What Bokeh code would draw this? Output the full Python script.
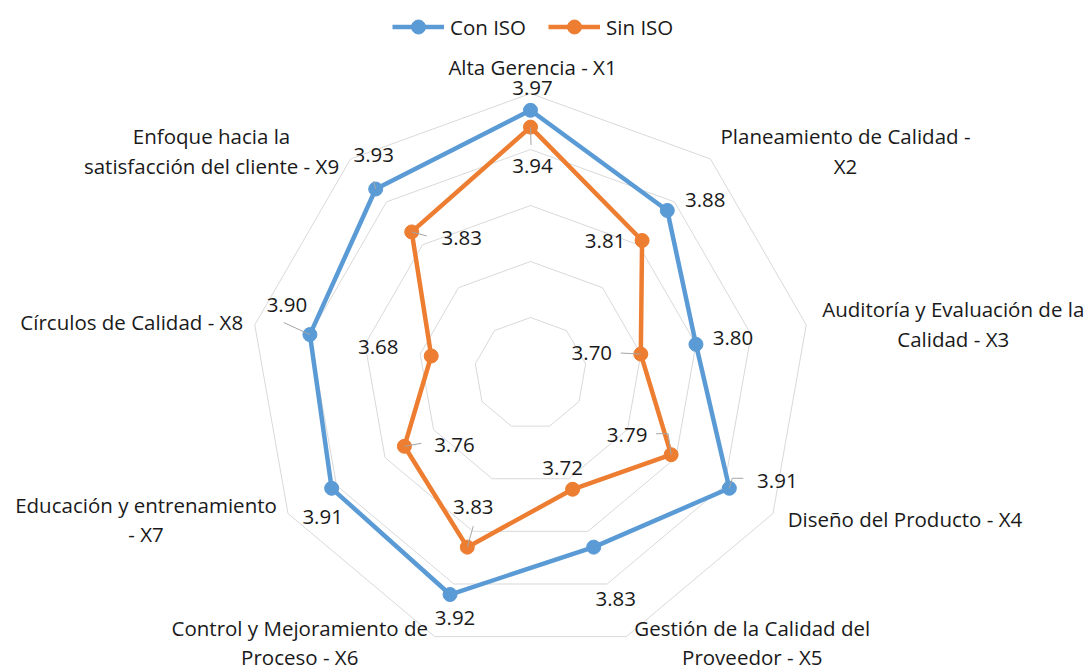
import numpy as np
from bokeh.plotting import figure
from bokeh.models import Range1d, Legend, LegendItem
from bokeh.core.properties import value
from bokeh.embed import file_html
from bokeh.resources import INLINE

# ---- data -------------------------------------------------------------
categories = [
    "Alta Gerencia - X1",
    "Planeamiento de Calidad -\nX2",
    "Auditoría y Evaluación de la\nCalidad - X3",
    "Diseño del Producto - X4",
    "Gestión de la Calidad del\nProveedor - X5",
    "Control y Mejoramiento de\nProceso - X6",
    "Educación y entrenamiento\n- X7",
    "Círculos de Calidad - X8",
    "Enfoque hacia la\nsatisfacción del cliente - X9",
]
con_iso = [3.97, 3.88, 3.80, 3.91, 3.83, 3.92, 3.91, 3.90, 3.93]
sin_iso = [3.94, 3.81, 3.70, 3.79, 3.72, 3.83, 3.76, 3.68, 3.83]
ring_levels = [3.6, 3.7, 3.8, 3.9, 4.0]
axis_min = 3.5
axis_max = 4.0

# ---- layout / style ---------------------------------------------------
W, H = 1090, 672
CX, CY = 530, 373          # centre of the radar, page pixels
PX = 560                   # pixels per unit of the radial scale
FONT = "Open Sans"
FSIZE = "20.5px"
TEXT_COLOR = "#1a1a1a"
BLUE = "#5B9BD5"
ORANGE = "#ED7D31"
GRID = "#D9D9D9"
LEADER = "#A6A6A6"

# label offsets from their point, in screen pixels (y downwards)
con_label_off = [(2, -22), (38, -10), (37, -6), (48, -7), (22, 52),
                 (5, 23), (-9, 29), (-23, -30), (-2, -34)]
sin_label_off = [(2, 39), (-37, 0), (-49, -1), (-44, -20), (-10, -21),
                 (6, -40), (50, -1), (-53, -9), (50, 6)]
# category label block centres, offset from the outer ring vertex
cat_off = [(2, -27), (135, -8), (147, -1), (132, 5), (126, 6),
           (-135, 6), (-142, 6), (-123, -3), (-139, -8)]
LINE_STEP = 29.5
# leader lines: series, category index, polyline offsets from the point
leaders = [
    ("con", 3, [(3, -10), (14, -10)]),
    ("con", 7, [(-26, -12)]),
    ("con", 8, [(-2, -8)]),
    ("sin", 0, [(0.5, 18)]),
    ("sin", 2, [(-20, -1)]),
    ("sin", 3, [(-3, -21), (-15, -21)]),
    ("sin", 5, [(6, -21)]),
    ("sin", 6, [(17, -3)]),
    ("sin", 8, [(15, 4)]),
]

n = len(categories)
theta = np.pi / 2 - 2 * np.pi * np.arange(n) / n


def polar(vals):
    r = np.asarray(vals, dtype=float) - axis_min
    return r * np.cos(theta), r * np.sin(theta)


def shift(x, y, off):
    return x + off[0] / PX, y - off[1] / PX


p = figure(width=W, height=H, output_backend="svg", toolbar_location=None,
           x_range=Range1d(-CX / PX, (W - CX) / PX),
           y_range=Range1d(-(H - CY) / PX, CY / PX),
           min_border=0, outline_line_color=None)
p.axis.visible = False
p.grid.visible = False
p.background_fill_color = "white"
p.border_fill_color = "white"

# grid rings
for lvl in ring_levels:
    gx, gy = polar([lvl] * n)
    p.line(np.append(gx, gx[0]), np.append(gy, gy[0]), line_color=GRID, line_width=1)

# series
series = {}
renderers = {}
for key, vals, color in (("con", con_iso, BLUE), ("sin", sin_iso, ORANGE)):
    x, y = polar(vals)
    series[key] = (x, y)
    ln = p.line(np.append(x, x[0]), np.append(y, y[0]), line_color=color,
                line_width=4.5, line_join="round")
    sc = p.scatter(x, y, size=14, fill_color=color, line_color=color, marker="circle")
    renderers[key] = [ln, sc]

# leader lines
lxs, lys = [], []
for key, i, offs in leaders:
    x0, y0 = series[key][0][i], series[key][1][i]
    xs, ys = [x0], [y0]
    for o in offs:
        a, b = shift(x0, y0, o)
        xs.append(a)
        ys.append(b)
    lxs.append(xs)
    lys.append(ys)
p.multi_line(lxs, lys, line_color=LEADER, line_width=1)

# data labels
for key, vals, offs in (("con", con_iso, con_label_off), ("sin", sin_iso, sin_label_off)):
    x, y = series[key]
    tx, ty = zip(*[shift(x[i], y[i], offs[i]) for i in range(n)])
    p.text(list(tx), list(ty), text=[f"{v:.2f}" for v in vals],
           text_font=value(FONT), text_font_size=FSIZE, text_color=TEXT_COLOR,
           text_align="center", text_baseline="middle")

# category labels
ox, oy = polar([axis_max] * n)
cx_list, cy_list, ctext = [], [], []
for i, label in enumerate(categories):
    lines = label.split("\n")
    bx, by = shift(ox[i], oy[i], cat_off[i])
    for j, line in enumerate(lines):
        dy = (j - (len(lines) - 1) / 2) * LINE_STEP
        a, b = shift(bx, by, (0, dy))
        cx_list.append(a)
        cy_list.append(b)
        ctext.append(line)
p.text(cx_list, cy_list, text=ctext, text_font=value(FONT), text_font_size=FSIZE,
       text_color=TEXT_COLOR, text_align="center", text_baseline="middle")

# legend
legend = Legend(items=[LegendItem(label="Con ISO", renderers=renderers["con"]),
                       LegendItem(label="Sin ISO", renderers=renderers["sin"])],
                orientation="horizontal", location=(392, H - 44),
                glyph_width=52, glyph_height=35, label_standoff=6, spacing=22,
                padding=0, margin=0, border_line_color=None,
                background_fill_alpha=0, label_text_font=FONT,
                label_text_font_size=FSIZE, label_text_color=TEXT_COLOR)
p.add_layout(legend, "center")

open("out.html", "w").write(file_html(p, INLINE))
